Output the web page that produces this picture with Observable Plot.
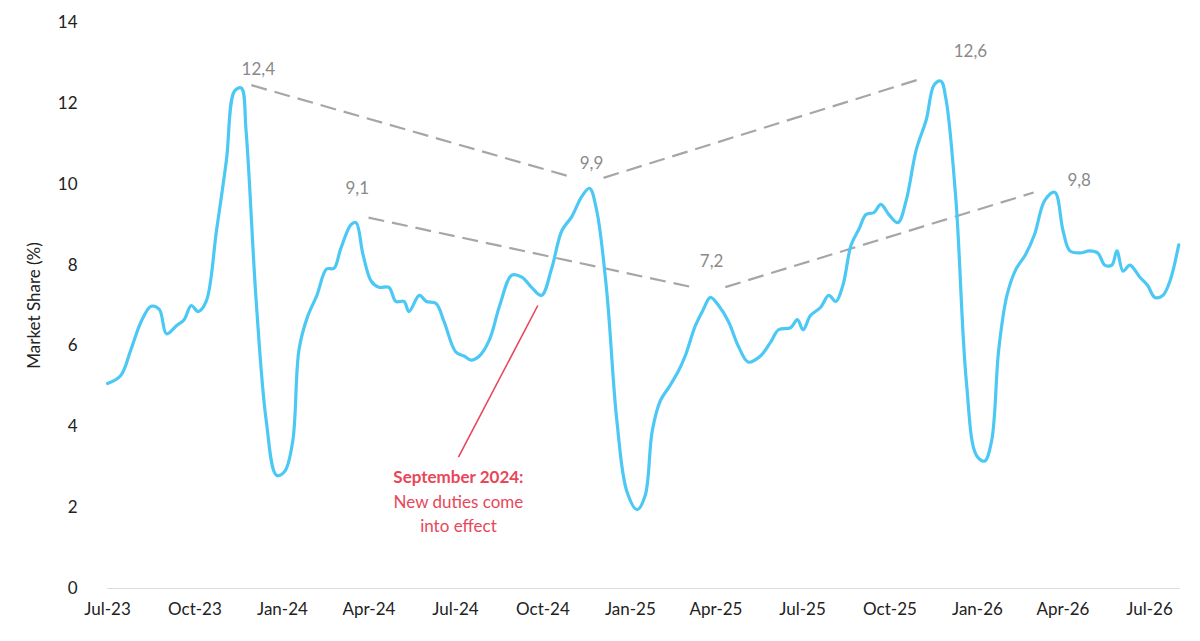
<!DOCTYPE html>
<html><head><meta charset="utf-8">
<script src="https://cdn.jsdelivr.net/npm/d3@7"></script>
<script src="https://cdn.jsdelivr.net/npm/@observablehq/plot@0.6"></script>
<style>body{margin:0;background:#fff;font-family:Lato,"Noto Sans",sans-serif}</style>
</head><body><div id="chart"></div>
<script>
// months since Jul 2023 (fractional), and market share %
const monthOffsets = [0,0.45,0.79,1.14,1.48,1.76,2.0,2.35,2.62,2.87,3.11,3.38,3.73,4.07,4.35,4.59,4.76,5.11,5.45,5.8,6.08,6.35,6.56,6.84,7.18,7.53,7.8,8.04,8.39,8.56,8.8,9.08,9.35,9.7,9.94,10.22,10.39,10.74,10.98,11.32,11.6,12.01,12.29,12.53,12.81,13.15,13.5,13.91,14.26,14.6,14.95,15.29,15.64,15.98,16.33,16.6,16.85,17.19,17.54,17.88,18.23,18.5,18.74,19.02,19.36,19.71,19.95,20.3,20.57,20.81,21.09,21.44,21.78,22.13,22.54,22.89,23.16,23.58,23.82,24.02,24.27,24.61,24.89,25.13,25.37,25.65,25.92,26.16,26.44,26.68,26.96,27.27,27.55,27.89,28.24,28.51,28.75,28.93,29.27,29.62,29.96,30.24,30.48,30.72,31.0,31.34,31.69,32.03,32.38,32.72,33.0,33.24,33.59,33.93,34.21,34.45,34.69,34.86,35.07,35.31,35.66,35.93,36.18,36.45,36.69,36.99];
const shares = [5.07,5.27,5.9,6.6,6.98,6.9,6.3,6.5,6.65,7.0,6.85,7.1,8.85,10.6,12.3,12.38,11.3,7.1,4.15,2.8,2.9,3.65,5.9,6.7,7.25,7.9,7.92,8.4,9.0,9.05,8.25,7.6,7.45,7.45,7.1,7.1,6.85,7.25,7.1,7.05,6.6,5.85,5.75,5.65,5.75,6.15,7.0,7.75,7.7,7.45,7.25,7.9,8.85,9.2,9.7,9.9,9.35,7.4,4.15,2.4,1.95,2.3,3.9,4.65,5.0,5.4,5.75,6.5,6.9,7.2,7.0,6.6,6.0,5.6,5.75,6.1,6.4,6.45,6.65,6.4,6.75,6.95,7.25,7.1,7.5,8.5,8.9,9.25,9.3,9.5,9.25,9.05,9.6,10.85,11.6,12.45,12.55,12.1,9.6,5.15,3.3,3.15,3.65,5.9,7.25,7.9,8.25,8.75,9.6,9.8,8.85,8.35,8.3,8.35,8.3,8.0,8.0,8.35,7.85,8.0,7.7,7.5,7.2,7.25,7.6,8.5];
const peakLabels = ["12,4","9,9","12,6","9,1","7,2","9,8"];
const peakMonths = [4.45,16.6,28.7,8.5,20.85,32.7];
const peakValues = [12.4,9.9,12.6,9.1,7.2,9.8];
const labelDx = [21,2,31,3,0,25];
const labelDy = [-18,-25,-28,-32,-36,-12];
const trendPairs = [[0,1],[1,2],[3,4],[4,5]];

const toDate = m => {const w=Math.floor(m);const a=new Date(2023,6+w,1),b=new Date(2023,7+w,1);return new Date(+a+(m-w)*(b-a));};
const data = monthOffsets.map((m,i)=>({date:toDate(m),v:shares[i]}));
const peaks = peakMonths.map((m,i)=>({date:toDate(m),v:peakValues[i],label:peakLabels[i],dx:labelDx[i],dy:labelDy[i]}));
const segs = trendPairs.map(([a,b])=>{
  const pa=peaks[a],pb=peaks[b];
  const t=f=>new Date(+pa.date+(pb.date-pa.date)*f);
  return {x1:t(0.04),y1:pa.v+(pb.v-pa.v)*0.04+0.15,x2:t(0.94),y2:pa.v+(pb.v-pa.v)*0.94+0.15};
});
const annoStart = {date:toDate(14.82),v:7.0};
const annoEnd = {date:toDate(12.1),v:3.25};

const ticks = d3.range(0,37,3).map(m=>new Date(2023,6+m,1));
const chart = Plot.plot({
  width:1200,height:641,marginLeft:107,marginRight:20,marginTop:22,marginBottom:53,
  style:{fontFamily:"Lato, 'Noto Sans', sans-serif",fontSize:"17px",color:"#222"},
  x:{type:"time",domain:[new Date(2023,6,1),toDate(37.05)],ticks,tickFormat:d3.timeFormat("%b-%y"),tickSize:0,tickPadding:14,label:null},
  y:{domain:[0,14],ticks:d3.range(0,15,2),tickSize:0,tickPadding:30,label:"Market Share (%)",labelAnchor:"center",labelArrow:false,labelOffset:80},
  marks:[
    Plot.ruleY([0],{stroke:"#ddd"}),
    Plot.link(segs,{x1:"x1",y1:"y1",x2:"x2",y2:"y2",stroke:"#a6a6a6",strokeWidth:2.2,strokeDasharray:"16,8"}),
    Plot.line(data,{x:"date",y:"v",stroke:"#4cc8f4",strokeWidth:3.2,curve:"catmull-rom"}),
    ...peaks.map(p=>Plot.text([p],{x:"date",y:"v",text:"label",dx:p.dx,dy:p.dy,fill:"#8a8a8a",fontSize:17})),
    Plot.link([{}],{x1:()=>annoStart.date,y1:()=>annoStart.v,x2:()=>annoEnd.date,y2:()=>annoEnd.v,stroke:"#e8475a",strokeWidth:1.6}),
    Plot.text([{}],{x:()=>annoEnd.date,y:()=>annoEnd.v,text:()=>"September 2024:",dy:20,fill:"#e8475a",fontWeight:"bold",fontSize:17}),
    Plot.text([{}],{x:()=>annoEnd.date,y:()=>annoEnd.v,text:()=>"New duties come\ninto effect",dy:55,fill:"#e8475a",fontSize:17,lineHeight:1.4})
  ]
});
document.getElementById("chart").append(chart);
</script></body></html>
